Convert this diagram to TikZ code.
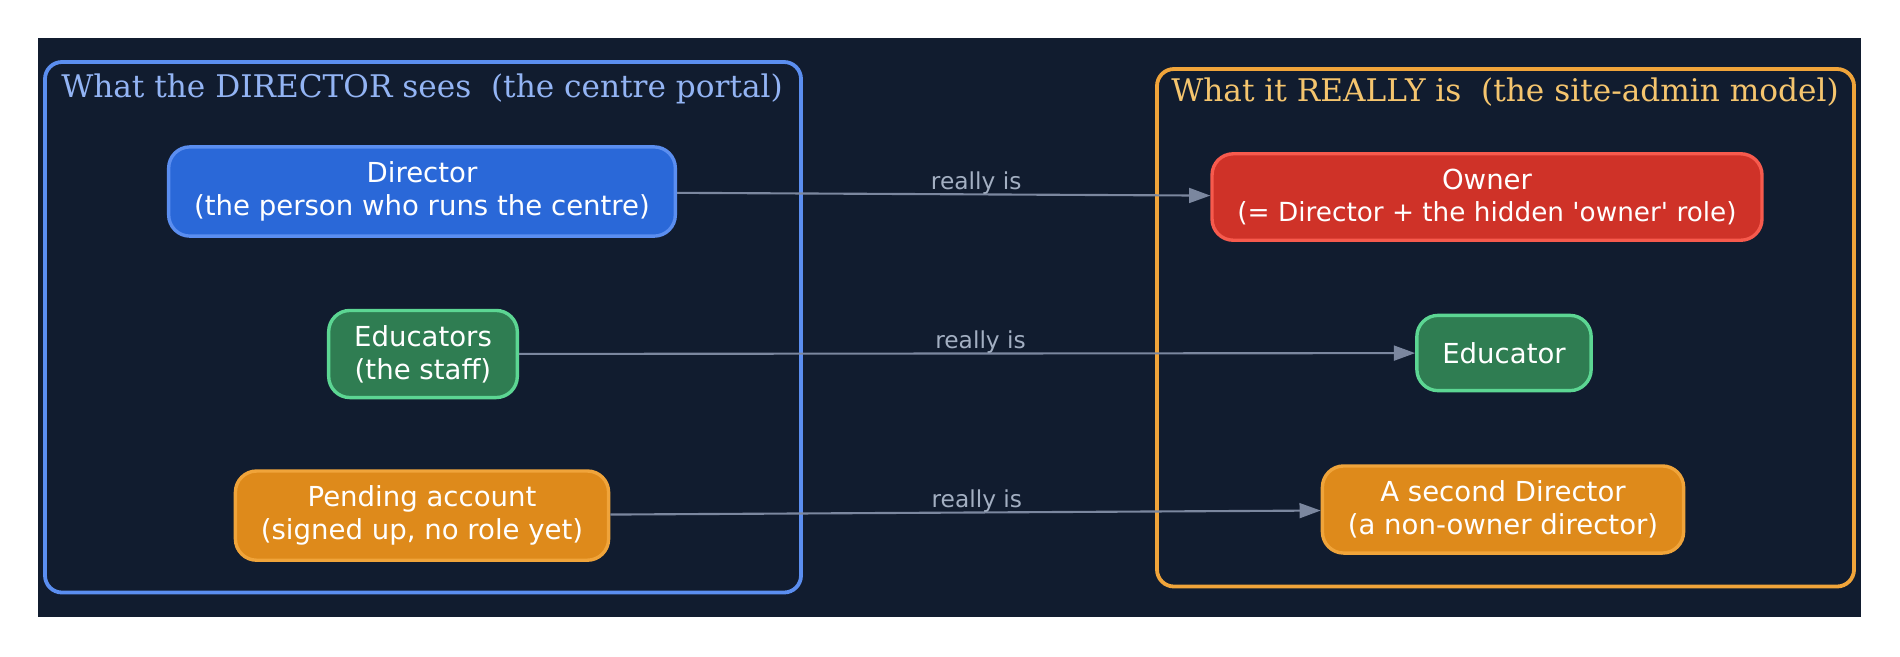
\documentclass[tikz,border=0pt]{standalone}
\usepackage{fontspec}
\setmainfont{DejaVu Sans}
\newfontfamily\titlefont{DejaVu Serif}
\usetikzlibrary{arrows.meta}
\definecolor{bgnavy}{HTML}{111C2F}
\definecolor{portalblue}{HTML}{5B8EF0}
\definecolor{portaltext}{HTML}{93B4F4}
\definecolor{adminorange}{HTML}{F0A43A}
\definecolor{admintext}{HTML}{F5C56E}
\definecolor{dirfill}{HTML}{2A68D8}
\definecolor{edufill}{HTML}{2F7D52}
\definecolor{eduline}{HTML}{5CD693}
\definecolor{pendfill}{HTML}{DE8A1B}
\definecolor{ownfill}{HTML}{CF3228}
\definecolor{ownline}{HTML}{F75A4D}
\definecolor{edgegray}{HTML}{7B879F}
\definecolor{lblgray}{HTML}{A3AFC2}
\begin{document}
\begin{tikzpicture}[x=0.4717pt, y=-0.4717pt,
  role/.style={draw, line width=1.6pt, rounded corners=10pt, text=white, align=center,
    font=\fontsize{13}{15.5}\selectfont, inner xsep=12pt, inner ysep=7pt, minimum height=35.5pt},
  frame/.style={line width=1.8pt, rounded corners=8pt},
  title/.style={font=\titlefont\fontsize{14.7}{18}\selectfont},
  link/.style={draw=edgegray, line width=1pt, -{Triangle[length=10pt,width=7pt]}},
  lbl/.style={font=\fontsize{11}{13}\selectfont, text=lblgray, anchor=south, inner sep=0pt, yshift=-0.5pt}]
\useasboundingbox[fill=white] (0,0) rectangle (1900,656);
\fill[bgnavy] (37.6,37.6) rectangle (1861,617);
% the centre portal
\draw[frame, draw=portalblue] (45,62) rectangle (801,592.5);
\node[title, text=portaltext] (portal) at (422,88.5) {What the DIRECTOR sees\ \ (the centre portal)};
\node[role, fill=dirfill, draw=portalblue] (dir) at (422,191.5) {Director\\(the person who runs the centre)};
\node[role, fill=edufill, draw=eduline] (edus) at (423,354) {Educators\\(the staff)};
\node[role, fill=pendfill, draw=adminorange] (pend) at (422,515.6) {Pending account\\(signed up, no role yet)};
% the site-admin model
\draw[frame, draw=adminorange] (1157,69) rectangle (1854,586.5);
\node[title, text=admintext] (model) at (1505,92) {What it REALLY is\ \ (the site-admin model)};
\node[role, fill=ownfill, draw=ownline] (own) at (1487,197)
  {Owner\\\fontsize{12.4}{15.5}\selectfont(= Director + the hidden \textquotesingle owner\textquotesingle\ role)};
\node[role, fill=edufill, draw=eduline] (edu) at (1504,353) {Educator};
\node[role, fill=pendfill, draw=adminorange] (second) at (1503,509.5) {A second Director\\(a non-owner director)};
% mapping
\foreach \a/\b/\p in {dir/own/0.561, edus/edu/0.515, pend/second/0.516}
  \draw[link] (\a) -- (\b) node[lbl, pos=\p] {really is};
\end{tikzpicture}
\end{document}
